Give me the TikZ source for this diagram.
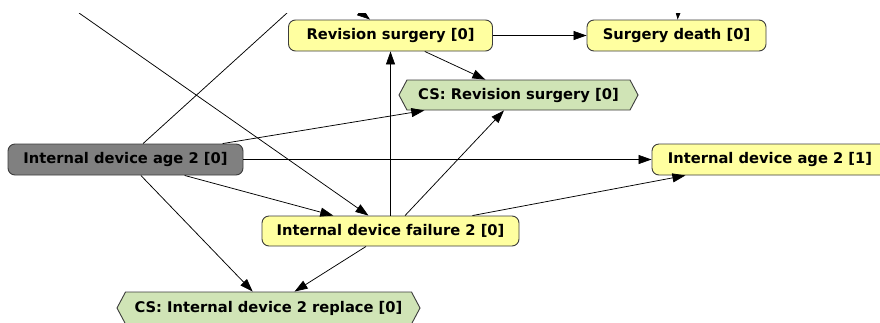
\documentclass[tikz,border=0pt]{standalone}
\usepackage{fontspec}
\setmainfont{DejaVu Sans}
\usetikzlibrary{arrows.meta,shapes.symbols}
\definecolor{nodeyellow}{RGB}{255,255,160}
\definecolor{csgreen}{RGB}{208,228,182}
\definecolor{agegray}{RGB}{128,128,128}
\definecolor{rimgray}{RGB}{60,60,60}
\begin{document}
\begin{tikzpicture}[x=1pt,y=-1pt,
  lbl/.style={font=\fontsize{14.7}{16}\selectfont\bfseries, inner sep=0pt, text=black},
  chance/.style={lbl, draw=rimgray, line width=0.9pt, rounded corners=7pt,
    fill=nodeyellow, minimum height=31pt},
  fixedstate/.style={chance, fill=agegray},
  csbox/.style={lbl, draw=rimgray, line width=0.9pt, fill=csgreen,
    shape=signal, signal to=west and east, signal pointer angle=124,
    minimum height=30pt},
  link/.style={draw=black, line width=0.75pt},
  arc/.style={link, -{Triangle[length=13pt,width=9pt]}}
]
\useasboundingbox (0,0) rectangle (880,322);
\fill[white] (0,0) rectangle (880,322);
\clip (0,0) rectangle (880,322);

% nodes
\node[chance, minimum width=204pt] (rs) at (390.5,35.5) {Revision surgery [0]};
\node[chance, minimum width=179pt] (sd) at (676.5,35.5) {Surgery death [0]};
\node[csbox, minimum width=239pt] (csrs) at (518.5,95) {CS: Revision surgery [0]};
\node[fixedstate, minimum width=235pt] (ida0) at (125.5,159.5) {Internal device age 2 [0]};
\node[chance, minimum width=236pt] (ida1) at (770,159.5) {Internal device age 2 [1]};
\node[chance, minimum width=257pt, minimum height=30pt] (idf) at (390.5,231) {Internal device failure 2 [0]};
\node[csbox, minimum width=303pt, minimum height=32pt] (csr) at (268.5,308) {CS: Internal device 2 replace [0]};

% free ends of links leaving the visible area
\coordinate (tl) at (79,13);
\coordinate (tm) at (287,13);
\coordinate (trs) at (350,4);
\coordinate (tsd) at (679,0);

\begin{scope}
\clip (0,13) rectangle (880,322);
\draw[arc] (tl) -- (idf);
\draw[link] (ida0) -- (tm);
\draw[arc] (trs) -- (rs);
\draw[arc] (tsd) -- (sd);
\end{scope}

\draw[arc] (rs) -- (sd);
\draw[arc] (rs) -- (csrs);
\draw[arc] (ida0) -- (csrs);
\draw[arc] (ida0) -- (ida1);
\draw[arc] (ida0) -- (idf);
\draw[arc] (ida0) -- (csr);
\draw[arc] (idf) -- (rs);
\draw[arc] (idf) -- (csrs);
\draw[arc] (idf) -- (ida1);
\draw[arc] (idf) -- (csr);
\end{tikzpicture}
\end{document}
